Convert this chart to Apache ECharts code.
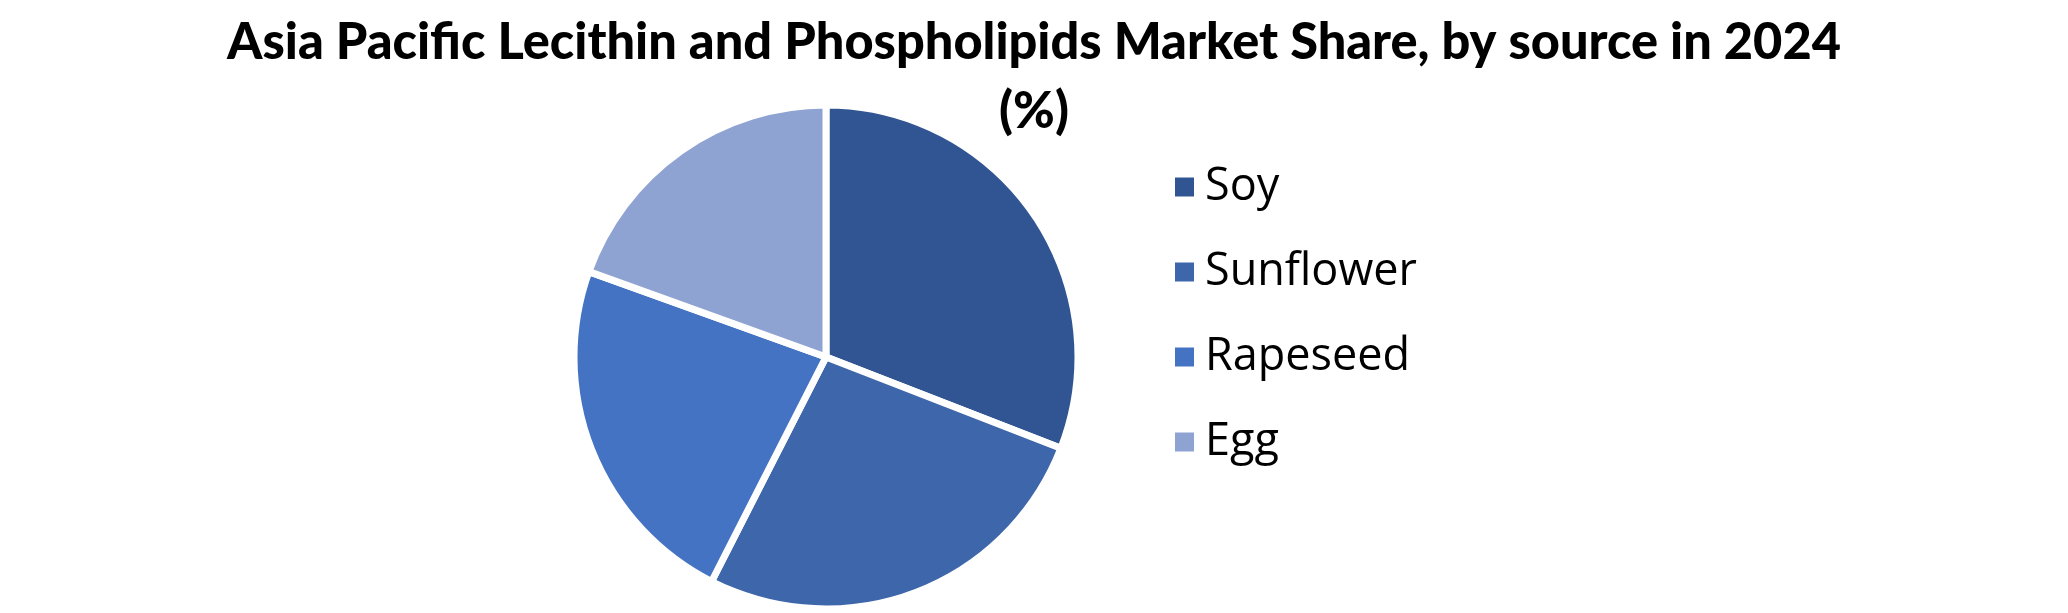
<!DOCTYPE html>
<html>
<head>
<meta charset="utf-8">
<script src="https://cdn.jsdelivr.net/npm/echarts@6/dist/echarts.min.js"></script>
<style>
html, body { margin: 0; padding: 0; background: #fff; }
#chart { width: 2068px; height: 613px; }
</style>
</head>
<body>
<div id="chart"></div>
<script>
// values (share %, clockwise from 12 o'clock)
const sources = ['Soy', 'Sunflower', 'Rapeseed', 'Egg'];
const shares = [30.9, 26.6, 23.0, 19.5];
const colors = ['#305592', '#3e66aa', '#4573c3', '#8fa3d3'];

const chart = echarts.init(document.getElementById('chart'));

const option = {
    backgroundColor: '#ffffff',
    animation: false,
    color: colors,
    title: {
        text: 'Asia Pacific Lecithin and Phospholipids Market Share, by source in 2024\n(%)',
        left: 'center',
        top: 3,
        textStyle: {
            fontFamily: 'Lato',
            fontWeight: 900,
            fontSize: 50.5,
            lineHeight: 69,
            color: '#000',
        },
    },
    legend: {
        orient: 'vertical',
        left: 1168,
        top: 157,
        itemWidth: 21,
        itemHeight: 21,
        itemGap: 35,
        icon: 'rect',
        textStyle: {
            fontFamily: 'Open Sans',
            fontSize: 45,
            lineHeight: 50,
            color: '#000',
            padding: [0, 0, 0, 5],
        },
        data: sources,
    },
    series: [{
        type: 'pie',
        center: [826, 357],
        radius: 252,
        startAngle: 90,
        clockwise: true,
        label: { show: false },
        labelLine: { show: false },
        itemStyle: {
            borderColor: '#fff',
            borderWidth: 7,
        },
        emphasis: { disabled: true },
        data: sources.map((name, i) => ({ name, value: shares[i] })),
    }],
};

chart.setOption(option);
</script>
</body>
</html>
